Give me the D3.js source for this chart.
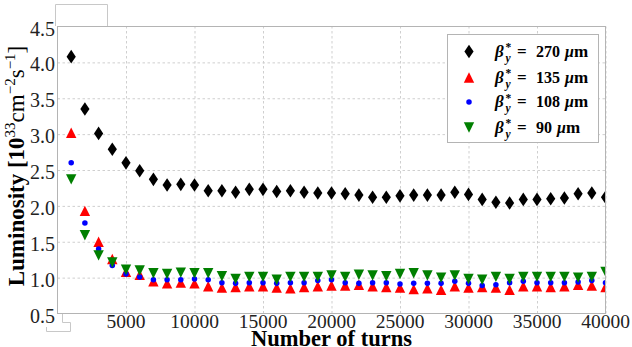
<!DOCTYPE html>
<html>
<head>
<meta charset="utf-8">
<script src="https://cdn.jsdelivr.net/npm/d3@7"></script>
<style>
  body { margin: 0; background: #fff; }
  svg { display: block; font-family: "Liberation Serif", "DejaVu Serif", serif; }
</style>
</head>
<body>
<svg id="chart" width="632" height="347"></svg>
<script>
// turns (x values)
var turns = [1000,2000,3000,4000,5000,6000,7000,8000,9000,10000,
  11000,12000,13000,14000,15000,16000,17000,18000,19000,20000,
  21000,22000,23000,24000,25000,26000,27000,28000,29000,30000,
  31000,32000,33000,34000,35000,36000,37000,38000,39000,40000];

var lum270 = [4.08,3.35,3.01,2.79,2.60,2.49,2.37,2.29,2.30,2.29,
  2.21,2.21,2.19,2.23,2.23,2.20,2.21,2.19,2.18,2.18,
  2.17,2.15,2.12,2.12,2.14,2.15,2.15,2.15,2.19,2.16,
  2.09,2.05,2.04,2.09,2.09,2.10,2.11,2.17,2.18,2.12];
var lum135 = [3.02,1.93,1.50,1.26,1.08,1.04,0.95,0.92,0.93,0.92,
  0.88,0.86,0.87,0.88,0.88,0.86,0.85,0.87,0.88,0.89,
  0.89,0.90,0.88,0.87,0.86,0.84,0.85,0.83,0.88,0.86,
  0.87,0.86,0.83,0.88,0.88,0.87,0.88,0.90,0.89,0.87];
var lum108 = [2.60,1.76,1.40,1.17,1.05,1.01,0.97,0.97,0.97,0.98,
  0.97,0.93,0.92,0.93,0.93,0.92,0.93,0.93,0.96,0.97,
  0.93,0.92,0.93,0.93,0.91,0.92,0.92,0.92,0.95,0.92,
  0.89,0.90,0.93,0.95,0.93,0.93,0.93,0.94,0.96,0.93];
var lum90 = [2.37,1.59,1.31,1.21,1.11,1.10,1.06,1.05,1.07,1.06,
  1.06,1.02,0.98,1.01,1.01,0.97,1.01,1.01,1.01,1.03,
  1.01,1.04,1.03,1.02,1.05,1.06,1.03,1.00,1.03,0.98,
  0.97,1.01,0.98,1.01,1.01,1.01,1.01,1.00,1.01,1.08];

var seriesNames = ["270", "135", "108", "90"];
var xTicks = [5000,10000,15000,20000,25000,30000,35000,40000];
var yTicks = [0.5,1.0,1.5,2.0,2.5,3.0,3.5,4.0,4.5];

var main = function() {
  var series = [
    {name: seriesNames[0], values: lum270, color: "#000000", shape: "diamond"},
    {name: seriesNames[1], values: lum135, color: "#ff0000", shape: "up"},
    {name: seriesNames[2], values: lum108, color: "#0000ff", shape: "dot"},
    {name: seriesNames[3], values: lum90,  color: "#007f00", shape: "down"}
  ];

  var svg = d3.select("#chart");
  var pl = 57.5, pr = 605.5, pt = 26.5, pb = 313.5;

  var x = d3.scaleLinear().domain([0, 40000]).range([pl, pr]);
  var y = d3.scaleLinear().domain([0.5, 4.5]).range([pb, pt]);

  function markerPath(shape) {
    if (shape == "diamond") return "M0,-6.8L4.6,0L0,6.8L-4.6,0Z";
    if (shape == "up") return "M0,-5.2L5.2,5.2L-5.2,5.2Z";
    if (shape == "down") return "M0,5.2L5.2,-5.2L-5.2,-5.2Z";
    return d3.symbol(d3.symbolCircle, 24)();
  }

  // stray boxes in the original image
  svg.append("path")
    .attr("d", "M55.5,26V4.5H107.5V26")
    .attr("fill", "none").attr("stroke", "#c8c8c8");
  svg.append("path")
    .attr("d", "M62.5,314V322.5H70.5V331.5H46.5V327")
    .attr("fill", "none").attr("stroke", "#c8c8c8");

  // grid
  svg.append("g")
    .attr("transform", "translate(0," + pb + ")")
    .call(d3.axisBottom(x).tickValues(xTicks).tickSize(-(pb - pt)).tickFormat(""))
    .call(g => g.select(".domain").remove())
    .selectAll("line")
    .attr("stroke", "#cfcfcf").attr("stroke-dasharray", "2.5,2.5");

  svg.append("g")
    .attr("transform", "translate(" + pl + ",0)")
    .call(d3.axisLeft(y).tickValues(yTicks.slice(1, -1)).tickSize(-(pr - pl)).tickFormat(""))
    .call(g => g.select(".domain").remove())
    .selectAll("line")
    .attr("stroke", "#cfcfcf").attr("stroke-dasharray", "2.5,2.5");

  svg.append("clipPath").attr("id", "clip")
    .append("rect").attr("x", pl).attr("y", pt)
    .attr("width", pr - pl).attr("height", pb - pt);

  var plot = svg.append("g").attr("clip-path", "url(#clip)");

  series.forEach(function(s) {
    plot.append("g").selectAll("path")
      .data(s.values)
      .join("path")
      .attr("transform", (d, i) => "translate(" + x(turns[i]) + "," + y(d) + ")")
      .attr("d", markerPath(s.shape))
      .attr("fill", s.color);
  });

  // frame
  svg.append("rect")
    .attr("x", pl).attr("y", pt)
    .attr("width", pr - pl).attr("height", pb - pt)
    .attr("fill", "none").attr("stroke", "#b4b4b4").attr("stroke-width", 1);

  // tick labels
  svg.append("g").selectAll("text")
    .data(xTicks).join("text")
    .attr("x", d => x(d)).attr("y", 328)
    .attr("text-anchor", "middle")
    .attr("font-size", 19.5).attr("fill", "#222")
    .text(d => d);

  svg.append("g").selectAll("text")
    .data(yTicks).join("text")
    .attr("x", 55).attr("y", d => y(d) + 9)
    .attr("text-anchor", "end")
    .attr("font-size", 20).attr("fill", "#222")
    .text(d => d.toFixed(1));

  // axis titles
  svg.append("text")
    .attr("x", (pl + pr) / 2).attr("y", 345.5)
    .attr("text-anchor", "middle")
    .attr("font-size", 22.5).attr("font-weight", "bold")
    .text("Number of turns");

  var yl = svg.append("text")
    .attr("transform", "translate(24," + ((pt + pb) / 2 - 4) + ") rotate(-90)")
    .attr("text-anchor", "middle")
    .attr("font-size", 23);
  yl.append("tspan").attr("font-weight", "bold").text("Luminosity [10");
  yl.append("tspan").attr("font-size", 15).attr("dy", -9).text("33");
  yl.append("tspan").attr("dy", 9).text("cm");
  yl.append("tspan").attr("font-size", 15).attr("dy", -9).text("\u22122");
  yl.append("tspan").attr("dy", 9).text("s");
  yl.append("tspan").attr("font-size", 15).attr("dy", -9).text("\u22121");
  yl.append("tspan").attr("dy", 9).text("]");

  // legend
  svg.append("rect")
    .attr("x", 447.5).attr("y", 34.5).attr("width", 151).attr("height", 108)
    .attr("fill", "#fff").attr("stroke", "#b4b4b4");

  var legRows = [51.5, 77.5, 102, 127.5];
  series.forEach(function(s, i) {
    var g = svg.append("g").attr("transform", "translate(0," + legRows[i] + ")");
    g.append("path")
      .attr("transform", "translate(469,0)")
      .attr("d", markerPath(s.shape))
      .attr("fill", s.color);
    g.append("text").attr("x", 495).attr("y", 5)
      .attr("font-size", 17).attr("font-weight", "bold").attr("font-style", "italic")
      .text("\u03b2");
    g.append("text").attr("x", 505.5).attr("y", -0.5)
      .attr("font-size", 11.5).attr("font-weight", "bold")
      .text("*");
    g.append("text").attr("x", 505.5).attr("y", 10)
      .attr("font-size", 11.5).attr("font-weight", "bold").attr("font-style", "italic")
      .text("y");
    g.append("text").attr("x", 517).attr("y", 5)
      .attr("font-size", 17).attr("font-weight", "bold")
      .text("=");
    var t = g.append("text").attr("x", 536).attr("y", 5)
      .attr("font-size", 16).attr("font-weight", "bold");
    t.append("tspan").text(s.name);
    t.append("tspan").attr("dx", 5).attr("font-style", "italic").text("\u03bc");
    t.append("tspan").attr("font-size", 17).text("m");
  });
}
main()
</script>
</body>
</html>
